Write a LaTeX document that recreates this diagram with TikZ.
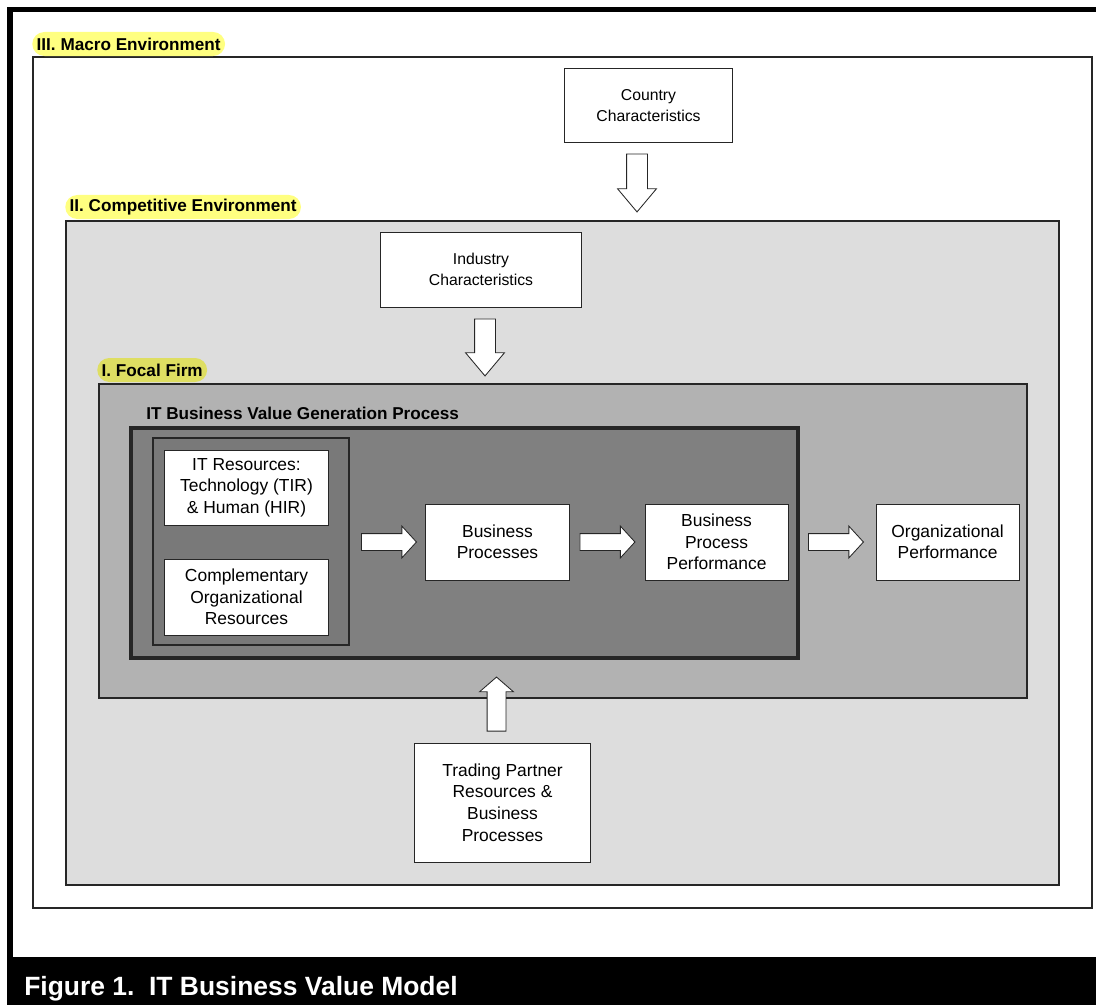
\documentclass[tikz,border=0pt]{standalone}
\usepackage{fontspec}
\setmainfont{Liberation Sans}
\usetikzlibrary{arrows.meta,shapes.arrows,positioning,calc,fit}
\definecolor{labelyellow}{RGB}{255,255,128}
\definecolor{focalyellow}{RGB}{222,222,98}
\definecolor{competgray}{RGB}{221,221,221}
\definecolor{focalgray}{RGB}{178,178,178}
\definecolor{processgray}{RGB}{128,128,128}
\definecolor{resgray}{RGB}{121,121,121}
\tikzset{%
  % Specifications for style of nodes:
            base/.style = {rectangle, draw=black!85, line width=0.7pt, fill=white,
                           align=center, font=\fontsize{12.4}{15.3}\selectfont},
        boxsmall/.style = {base, minimum width=3.575cm, minimum height=1.9cm},
       container/.style = {rectangle, draw=black!85, line width=0.8pt,
                           inner sep=0pt, outer sep=0pt},
        envlabel/.style = {fill=labelyellow, rounded corners=0.3cm, anchor=west,
                           inner xsep=0.11cm, inner ysep=0pt, minimum height=0.6cm,
                           font=\fontsize{12.2}{14}\selectfont\bfseries},
  % block arrows between the boxes
        fatarrow/.style = {single arrow, draw=black!85, fill=white, line width=0.6pt,
                           anchor=tail, single arrow head indent=0pt, minimum width=0pt},
          harrow/.style = {fatarrow, inner sep=0.2cm, single arrow head extend=0.1875cm,
                           minimum height=1.375cm, single arrow tip angle=95},
          varrow/.style = {fatarrow, inner sep=0.25cm, single arrow head extend=0.225cm,
                           minimum height=1.45cm, single arrow tip angle=80,
                           shape border rotate=270},
}
\begin{document}
\begin{tikzpicture}[x=0.025cm, y=-0.025cm]
  \useasboundingbox (0,0) rectangle (1096,1005);
  % page frame and caption bar
  \fill[black] (7,7) rectangle (1096,12);
  \fill[black] (7,7) rectangle (13,1005);
  \fill[black] (7,957) rectangle (1096,1005);
  \node (caption) [anchor=base west, text=white, inner sep=0pt,
                   font=\fontsize{18.8}{20}\selectfont\bfseries]
                  at (24,995) {Figure 1.~~IT Business Value Model};

  % nested environments
  \node (macro)       [container, fill=white, fit={(33,57) (1092,908)}] {};
  \node (competitive) [container, fill=competgray, fit={(66,221) (1059,885)}] {};
  \node (focal)       [container, fill=focalgray, fit={(99,384) (1027,698)}] {};
  \node (bvgp)        [container, fill=processgray, line width=2.8pt, fit={(131,428) (798,658)}] {};
  \node (resgroup)    [container, fill=resgray, fit={(153,438) (349,645)}] {};

  \node (macroLabel)  [envlabel] at (32,44) {III. Macro Environment};
  \node (competLabel) [envlabel] at (65,207) {II. Competitive Environment};
  \node (focalLabel)  [envlabel, fill=focalyellow] at (97,370) {I. Focal Firm};
  \node (bvgpLabel)   [anchor=base west, inner sep=0pt, font=\fontsize{12.2}{14}\selectfont\bfseries]
                      at (146,419) {IT Business Value Generation Process};

  \node (country)  [base, minimum width=4.175cm, minimum height=1.825cm,
                    font=\fontsize{11.2}{15}\selectfont] at (648.5,105.5)
                   {Country\\Characteristics};
  \node (industry) [base, minimum width=5cm, minimum height=1.875cm,
                    font=\fontsize{11.2}{15}\selectfont] at (481,269.5)
                   {Industry\\Characteristics};
  \node (itRes)    [base, minimum width=4.075cm, minimum height=1.875cm] at (246.5,487.5)
                   {IT Resources:\\Technology (TIR)\\\& Human (HIR)};
  \node (complRes) [base, minimum width=4.075cm, minimum height=1.9cm, below=0.825cm of itRes]
                   {Complementary\\Organizational\\Resources};
  \node (bizProc)  [boxsmall] at (497.5,542) {Business\\Processes};
  \node (bizPerf)  [boxsmall, right=1.875cm of bizProc] {Business\\Process\\Performance};
  \node (orgPerf)  [boxsmall, right=2.175cm of bizPerf] {Organizational\\Performance};
  \node (trading)  [base, minimum width=4.375cm, minimum height=2.975cm] at (502.5,802.5)
                   {Trading Partner\\Resources \&\\Business\\Processes};

  % arrows
  \node (countryArrow)  [varrow] at ($(country.south)+(-11.5,11)$) {};
  \node (industryArrow) [varrow, minimum height=1.425cm] at ($(industry.south)+(4,11)$) {};
  \node (resArrow)      [harrow] at ($(resgroup.east |- bizProc.west)+(12,0)$) {};
  \node (procArrow)     [harrow] at ($(bizProc.east)+(10,0)$) {};
  \node (perfArrow)     [harrow] at ($(bvgp.east |- bizPerf.east)+(10,0)$) {};
  \node (tradeArrow)    [varrow, shape border rotate=90, inner sep=0.225cm,
                         single arrow head extend=0.1875cm, minimum height=1.35cm,
                         single arrow tip angle=98] at ($(trading.north)+(-6,-11)$) {};
\end{tikzpicture}
\end{document}
